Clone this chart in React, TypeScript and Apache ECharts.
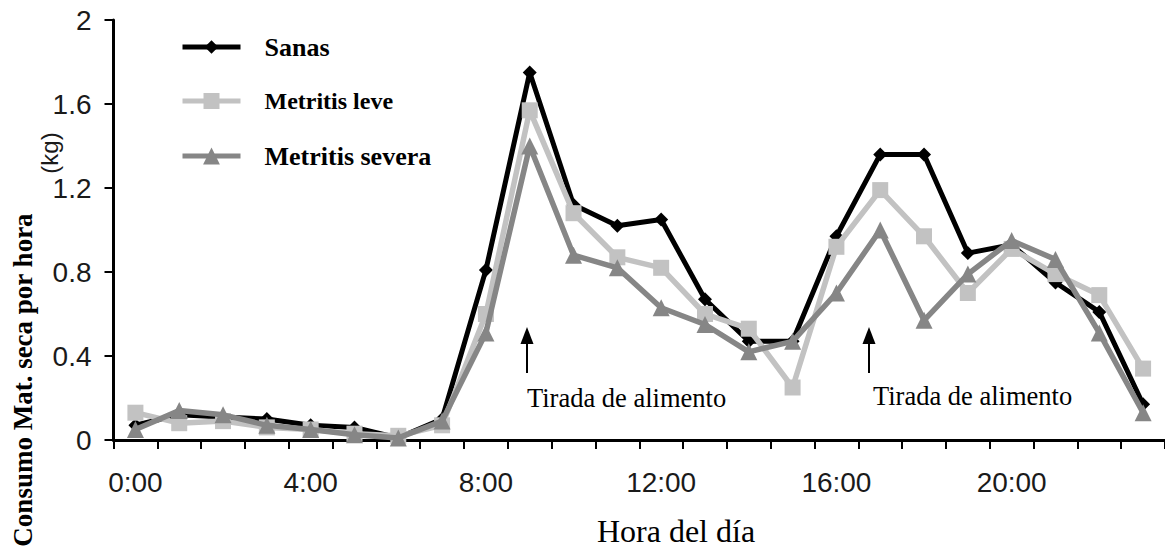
import React, { useEffect, useRef } from "react";
import * as echarts from "echarts";

const hours = [
  "0:00", "1:00", "2:00", "3:00", "4:00", "5:00", "6:00", "7:00",
  "8:00", "9:00", "10:00", "11:00", "12:00", "13:00", "14:00", "15:00",
  "16:00", "17:00", "18:00", "19:00", "20:00", "21:00", "22:00", "23:00",
];

const sanas = [
  0.07, 0.12, 0.11, 0.1, 0.07, 0.06, 0.01, 0.1, 0.81, 1.75, 1.12, 1.02,
  1.05, 0.67, 0.47, 0.47, 0.97, 1.36, 1.36, 0.89, 0.93, 0.75, 0.61, 0.17,
];

const leve = [
  0.13, 0.08, 0.09, 0.06, 0.05, 0.03, 0.02, 0.07, 0.6, 1.57, 1.08, 0.87,
  0.82, 0.6, 0.53, 0.25, 0.92, 1.19, 0.97, 0.7, 0.91, 0.79, 0.69, 0.34,
];

const severa = [
  0.05, 0.14, 0.12, 0.07, 0.05, 0.025, 0.01, 0.09, 0.51, 1.4, 0.88, 0.82,
  0.63, 0.55, 0.42, 0.47, 0.7, 1.0, 0.57, 0.79, 0.95, 0.86, 0.51, 0.13,
];

const seriesNames = ["Sanas", "Metritis leve", "Metritis severa"];
const yTicks = [0, 0.4, 0.8, 1.2, 1.6, 2];
const xTitle = "Hora del día";
const yTitle = "Consumo Mat. seca por hora";
const yUnit = "(kg)";
const annotation = "Tirada de alimento";

const SERIF = "'Liberation Serif', 'Times New Roman', serif";
const SANS = "'Liberation Sans', Arial, sans-serif";

const C_SANAS = "#000000";
const C_LEVE = "#c2c2c2";
const C_SEVERA = "#868686";

export default function App() {
  const ref = useRef<HTMLDivElement>(null);

  useEffect(() => {
    if (!ref.current) return;
    const chart = echarts.init(ref.current, undefined, { renderer: "svg" });

    const legendBase = (
      name: string,
      centerY: number,
      size: number,
      itemHeight: number,
      lineWidth: number,
      shiftUp: number
    ) => ({
      data: [name],
      left: 180,
      top: centerY - 15 - shiftUp,
      padding: 0,
      itemWidth: 58,
      itemHeight,
      selectedMode: false,
      lineStyle: { width: lineWidth },
      textStyle: {
        fontFamily: SERIF,
        fontWeight: "bold",
        fontSize: size,
        lineHeight: 30,
        color: "#000",
        padding: [0, 0, shiftUp * 2, 19],
      },
    });

    const arrow = (x: number) => [
      {
        type: "line",
        shape: { x1: x, y1: 340, x2: x, y2: 373 },
        style: { stroke: "#000", lineWidth: 2 },
      },
      {
        type: "polygon",
        shape: { points: [[x, 327], [x - 6.5, 344], [x + 6.5, 344]] },
        style: { fill: "#000" },
      },
    ];

    const option = {
      animation: false,
      backgroundColor: "#fff",
      grid: { left: 113.5, right: 0, top: 20, bottom: 109, containLabel: false },
      legend: [
        legendBase(seriesNames[0], 47, 26, 17, 5, 0),
        legendBase(seriesNames[1], 101, 24, 20, 5, 4),
        legendBase(seriesNames[2], 156, 26, 21, 5, 0),
      ],
      xAxis: {
        type: "category",
        data: hours,
        boundaryGap: true,
        axisLine: { show: true, lineStyle: { color: "#000", width: 3 } },
        axisTick: {
          show: true,
          interval: 0,
          length: 9,
          inside: false,
          lineStyle: { color: "#000", width: 2 },
        },
        axisLabel: {
          interval: 3,
          margin: 28,
          fontFamily: SANS,
          fontSize: 28,
          color: "#1a1a1a",
        },
        splitLine: { show: false },
      },
      yAxis: {
        type: "value",
        min: 0,
        max: 2,
        interval: 0.4,
        axisLine: { show: true, lineStyle: { color: "#000", width: 3 } },
        axisTick: { show: true, length: 9, lineStyle: { color: "#000", width: 2 } },
        axisLabel: {
          margin: 22,
          fontFamily: SANS,
          fontSize: 28,
          color: "#1a1a1a",
          formatter: (v: number) => {
            const t = yTicks.find((k) => Math.abs(k - v) < 1e-6);
            return String(t !== undefined ? t : Math.round(v * 10) / 10);
          },
        },
        splitLine: { show: false },
      },
      series: [
        {
          name: seriesNames[0],
          type: "line",
          data: sanas,
          symbol: "diamond",
          symbolSize: 14,
          lineStyle: { color: C_SANAS, width: 5 },
          itemStyle: { color: C_SANAS },
          z: 2,
        },
        {
          name: seriesNames[1],
          type: "line",
          data: leve,
          symbol: "rect",
          symbolSize: 16,
          lineStyle: { color: C_LEVE, width: 5.5 },
          itemStyle: { color: C_LEVE },
          z: 3,
        },
        {
          name: seriesNames[2],
          type: "line",
          data: severa,
          symbol: "triangle",
          symbolSize: 17,
          lineStyle: { color: C_SEVERA, width: 5.5 },
          itemStyle: { color: C_SEVERA },
          z: 4,
        },
      ],
      graphic: [
        {
          type: "text",
          x: 676,
          y: 531,
          style: {
            text: xTitle,
            fontFamily: SERIF,
            fontSize: 32,
            fill: "#000",
            align: "center",
            verticalAlign: "middle",
          },
        },
        {
          type: "text",
          x: 23,
          y: 380,
          rotation: Math.PI / 2,
          style: {
            text: yTitle,
            fontFamily: SERIF,
            fontWeight: "bold",
            fontSize: 27,
            fill: "#000",
            align: "center",
            verticalAlign: "middle",
          },
        },
        {
          type: "text",
          x: 49,
          y: 153,
          rotation: Math.PI / 2,
          style: {
            text: yUnit,
            fontFamily: SANS,
            fontSize: 24,
            fill: "#1a1a1a",
            align: "center",
            verticalAlign: "middle",
          },
        },
        ...arrow(527),
        ...arrow(869),
        {
          type: "text",
          x: 527,
          y: 398,
          style: {
            text: annotation,
            fontFamily: SERIF,
            fontSize: 26.5,
            fill: "#000",
            align: "left",
            verticalAlign: "middle",
          },
        },
        {
          type: "text",
          x: 873,
          y: 396,
          style: {
            text: annotation,
            fontFamily: SERIF,
            fontSize: 26.5,
            fill: "#000",
            align: "left",
            verticalAlign: "middle",
          },
        },
      ],
    };

    chart.setOption(option as any);
    return () => chart.dispose();
  }, []);

  return (
    <div
      ref={ref}
      style={{ position: "fixed", left: 0, top: 0, width: 1165, height: 549, background: "#fff" }}
    />
  );
}
